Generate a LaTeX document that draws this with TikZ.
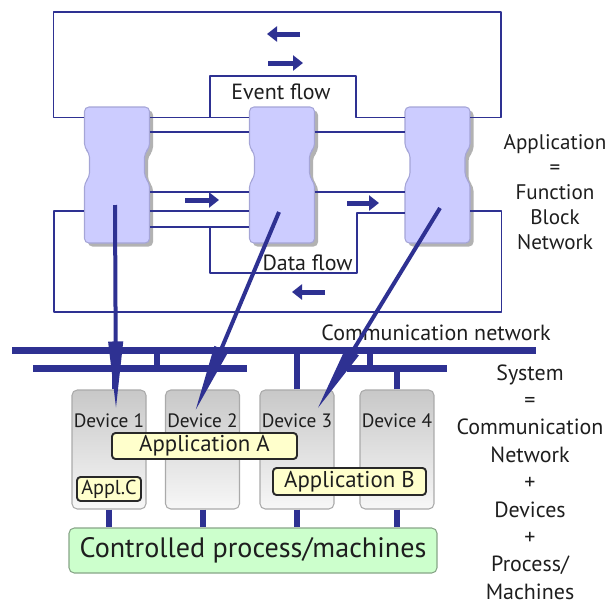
\documentclass[tikz,border=0pt]{standalone}
\usepackage{fontspec}
\setmainfont{PT Sans}
\usepackage{tikz}
\usetikzlibrary{arrows.meta,shadows,calc}

\definecolor{navy}{RGB}{46,49,146}
\definecolor{blockfill}{RGB}{204,204,255}
\definecolor{blockdraw}{RGB}{165,165,215}
\definecolor{appfill}{RGB}{255,255,204}
\definecolor{appdraw}{RGB}{40,40,40}
\definecolor{procfill}{RGB}{204,255,204}
\definecolor{procdraw}{RGB}{135,165,135}
\definecolor{devtop}{RGB}{200,200,200}
\definecolor{devbot}{RGB}{247,247,247}
\definecolor{devdraw}{RGB}{170,170,170}
\definecolor{textgray}{RGB}{30,30,30}

\tikzset{
  flow/.style={navy, line width=1.1pt},
  flowarrow/.style={navy, line width=0.1cm, -{Triangle[length=0.2cm, width=0.3cm]}},
  fblock/.style={fill=blockfill, draw=blockdraw, line width=0.6pt, rounded corners=2.5pt,
    drop shadow={shadow xshift=0.07cm, shadow yshift=-0.07cm, fill=black, opacity=0.3}},
  bus/.style={navy, line width=0.14cm},
  link/.style={navy, line width=0.12cm},
  map/.style={navy, line width=0.08cm, -{Triangle[length=1.36cm, width=0.28cm]}},
  device/.style={draw=devdraw, line width=0.6pt, rounded corners=3pt, top color=devtop, bottom color=devbot,
    minimum width=1.48cm, minimum height=2.38cm, inner sep=0pt},
  appbox/.style={draw=appdraw, line width=1.1pt, fill=appfill, rounded corners=2pt, inner sep=0pt,
    text=textgray, font=\fontsize{13}{15}\selectfont},
  lbl/.style={text=textgray, inner sep=1pt, font=\fontsize{12.5}{15}\selectfont}
}

\begin{document}
\begin{tikzpicture}[line join=round]

\useasboundingbox (0,0) rectangle (12.22,12.08);

% function blocks
\foreach \n/\x in {1/2.34, 2/5.64, 3/8.75} {
  \filldraw[fblock, shift={(\x,8.58)}] (-0.65,1.36) -- (0.65,1.36) -- (0.65,0.54) -- (0.55,0.44) -- (0.55,-0.04) -- (0.65,-0.16)
    -- (0.65,-1.36) -- (-0.65,-1.36) -- (-0.65,-0.16) -- (-0.55,-0.04) -- (-0.55,0.44) -- (-0.65,0.54) -- cycle;
  \node (fb\n) at (\x, 8.58) [minimum width=1.3cm, minimum height=2.72cm, inner sep=0pt] {};
}

% event flow
\draw[flow] (fb1.west |- 0,9.73) -- (1.07,9.73) |- (10.02,11.84) |- (fb3.east |- 0,9.73);
\draw[flow] (fb1.east |- 0,9.73) -- (fb2.west |- 0,9.73);
\draw[flow] (4.2,9.73) |- (7.12,10.56) |- (fb3.west |- 0,9.73);
\draw[flow] (fb1.east |- 0,9.44) -- (fb2.west |- 0,9.44);
\draw[flow] (fb2.east |- 0,9.44) -- (fb3.west |- 0,9.44);
\node (evlabel) at (5.62, 10.24) [lbl] {Event flow};

\draw[flowarrow] (6.0,11.4) -- (5.34,11.4);
\draw[flowarrow] (5.36,10.82) -- (6.06,10.82);

% data flow
\draw[flow] (fb1.east |- 0,8.24) -- (fb2.west |- 0,8.24);
\draw[flow] (fb2.east |- 0,8.24) -- (fb3.west |- 0,8.24);
\draw[flow] (fb1.west |- 0,7.86) -- (1.08,7.86) |- (10.03,5.84) |- (fb3.east |- 0,7.86);
\draw[flow] (fb1.east |- 0,7.86) -- (fb2.west |- 0,7.86);
\draw[flow] (fb1.east |- 0,7.54) -- (fb2.west |- 0,7.54);
\draw[flow] (4.2,7.54) |- (7.14,6.62) |- (fb3.west |- 0,7.82);
\node (dflabel) at (6.15, 6.82) [lbl] {Data flow};

\draw[flowarrow] (3.7,8.08) -- (4.38,8.08);
\draw[flowarrow] (6.94,8.02) -- (7.58,8.02);
\draw[flowarrow] (6.5,6.24) -- (5.84,6.24);

\node (fbnet) at (11.1, 8.24) [align=center, text=textgray, font=\fontsize{12}{14.2}\selectfont] {Application\\=\\Function\\Block\\Network};

% communication network
\node (comlabel) at (8.72, 5.42) [lbl] {Communication network};
\draw[bus] (0.24,5.08) -- (10.72,5.08);
\draw[bus] (0.66,4.72) -- (4.94,4.72);
\draw[bus] (6.94,4.72) -- (8.94,4.72);
\draw[link] (3.14,5.08) -- (3.14,4.72);
\draw[link] (7.4,5.08) -- (7.4,4.72);

% devices
\foreach \n/\x in {1/2.18, 2/4.05, 3/5.94, 4/7.94} {
  \node (dev\n) at (\x, 3.09) [device] {};
  \node (devlbl\n) at ([yshift=-0.62cm]dev\n.north) [lbl, font=\fontsize{11}{13}\selectfont] {Device \n};
}
\draw[link] ([xshift=0.12cm]dev1.north) -- ([xshift=0.12cm]dev1.north |- 0,4.72);
\draw[link] (dev3.north) -- (dev3.north |- 0,5.08);
\draw[link] (dev4.north) -- (dev4.north |- 0,4.72);

\draw[map] ([shift={(-0.04,-0.6)}]fb1.center) -- ([shift={(0.14,-0.4)}]dev1.north);
\draw[map] ([shift={(-0.06,-0.74)}]fb2.center) -- ([shift={(-0.15,-0.44)}]dev2.north);
\draw[map] ([shift={(0.05,-0.66)}]fb3.center) -- ([shift={(0.4,-0.4)}]dev3.north);

\node (appA) at (4.09, 3.16) [appbox, minimum width=3.7cm, minimum height=0.52cm] {Application A};
\node (appB) at (6.99, 2.45) [appbox, minimum width=3.06cm, minimum height=0.54cm] {Application B};
\node (appC) at (2.18, 2.3) [appbox, minimum width=1.28cm, minimum height=0.48cm, font=\fontsize{11.5}{14}\selectfont] {Appl.C};

% process
\node (proc) at (5.06, 1.07) [draw=procdraw, line width=0.6pt, fill=procfill, rounded corners=3pt, minimum width=7.36cm, minimum height=0.9cm, text=textgray, font=\fontsize{16}{19}\selectfont] {Controlled process/machines};
\foreach \n in {1,...,4}
  \draw[link] (dev\n.south) -- (dev\n.south |- proc.north);

\node (syseq) at (10.6, 2.44) [align=center, text=textgray, font=\fontsize{12.5}{15.6}\selectfont] {System\\=\\Communication\\Network\\+\\Devices\\+\\Process/\\Machines};

\end{tikzpicture}
\end{document}
